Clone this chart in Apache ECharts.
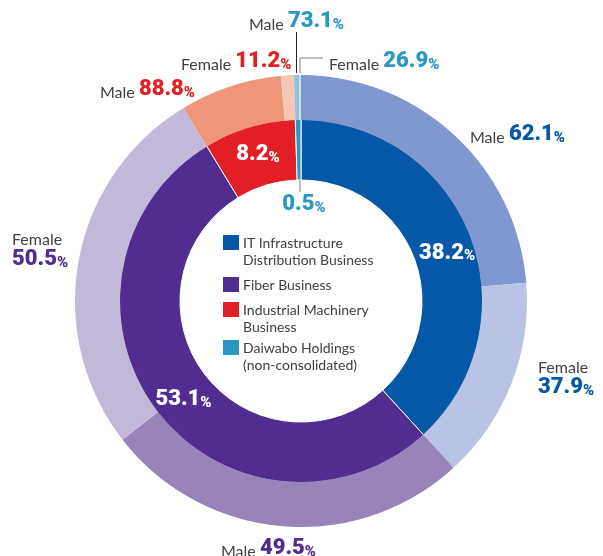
<!DOCTYPE html>
<html>
<head>
<meta charset="utf-8">
<script src="https://cdn.jsdelivr.net/npm/echarts@6/dist/echarts.min.js"></script>
<style>
  html, body { margin: 0; padding: 0; background: #fff; }
  #chart { width: 603px; height: 556px; }
</style>
</head>
<body>
<div id="chart"></div>
<script>
// data
const businesses = [
  'IT Infrastructure Distribution Business',
  'Fiber Business',
  'Industrial Machinery Business',
  'Daiwabo Holdings (non-consolidated)'
];
const legendLines = [
  ['IT Infrastructure', 'Distribution Business'],
  ['Fiber Business'],
  ['Industrial Machinery', 'Business'],
  ['Daiwabo Holdings', '(non-consolidated)']
];
const shares = [38.2, 53.1, 8.2, 0.5];      // 事業別構成比
const maleRatio = [62.1, 49.5, 88.8, 73.1];  // 男性比率
const femaleRatio = [37.9, 50.5, 11.2, 26.9]; // 女性比率

// styles
const innerColors = ['#0558a8', '#512d8f', '#e31f26', '#2b98c3'];
const maleColors = ['#8097cf', '#9883bb', '#ef967a', '#8ec4de'];
const femaleColors = ['#b9c3e3', '#c2b8da', '#f7c5b3', '#c8e3ef'];
const numColors = ['#0558a8', '#512d8f', '#e31f26', '#2b98c3'];
const FONT = 'Lato, "Noto Sans", sans-serif';
const NUM_FONT = 'Roboto, Lato, sans-serif';

// 外側ラベルの位置 [x, y] (Male/Female 交互)
const outerLabelPos = [
  [470, 134], [538, 374],
  [221, 548], [12, 246],
  [100, 89], [181, 61],
  [249, 21], [329, 61]
];
const outerTwoLine = [false, true, false, true, false, false, false, false];
const outerLinePts = {
  6: [[296.5, 73], [296.5, 50], [296.5, 32]],
  7: [[300, 73], [300, 58], [323, 58]]
};
const innerOffsets = [[2, 7], [6, 5], [1, 1]];

const outerData = [];
businesses.forEach((name, i) => {
  outerData.push({
    name: name + ' Male', gender: 'Male', ratio: maleRatio[i],
    value: shares[i] * maleRatio[i] / 100,
    itemStyle: { color: maleColors[i] },
    label: { color: numColors[i], position: i === 3 ? 'outside' : 'inside' },
    labelLine: { show: i === 3, lineStyle: { color: '#222', width: 1 } }
  });
  outerData.push({
    name: name + ' Female', gender: 'Female', ratio: femaleRatio[i],
    value: shares[i] * femaleRatio[i] / 100,
    itemStyle: { color: femaleColors[i] },
    label: { color: numColors[i], position: i === 3 ? 'outside' : 'inside' },
    labelLine: { show: i === 3, lineStyle: { color: '#808080', width: 1 } }
  });
});

const richNum = {
  n: { fontFamily: FONT, fontSize: 16, color: '#404040', lineHeight: 18, verticalAlign: 'bottom' },
  n2: { fontFamily: FONT, fontSize: 16, color: '#404040', lineHeight: 26, verticalAlign: 'bottom' },
  v: { fontFamily: NUM_FONT, fontSize: 22, fontWeight: 900, lineHeight: 23, verticalAlign: 'bottom' },
  p: { fontFamily: NUM_FONT, fontSize: 15, fontWeight: 900, lineHeight: 17, verticalAlign: 'bottom' }
};

// 凡例 (円の中)
const legendTop = [243, 285, 310, 348];
const legendGraphic = [];
legendLines.forEach((lines, i) => {
  legendGraphic.push({
    type: 'rect', left: 223, top: legendTop[i] - 8,
    shape: { width: 16, height: 15 },
    style: { fill: innerColors[i] }, silent: true
  });
  legendGraphic.push({
    type: 'text', left: 243, top: legendTop[i] - 8.5,
    style: {
      text: lines.join('\n'), font: '14px ' + FONT, fill: '#404040',
      lineHeight: 17
    }, silent: true
  });
});

const chart = echarts.init(document.getElementById('chart'));
chart.setOption({
  animation: false,
  graphic: legendGraphic,
  series: [
    {
      type: 'pie',
      radius: [121, 182],
      center: [301, 301],
      startAngle: 90,
      clockwise: true,
      silent: true,
      avoidLabelOverlap: false,
      itemStyle: { borderColor: '#fff', borderWidth: 1 },
      label: {
        show: true, position: 'inside',
        formatter: (p) => '{v|' + p.value + '}{p|%}',
        rich: richNum
      },
      labelLine: { show: false },
      labelLayout: (p) => {
        if (p.dataIndex === 3) {
          return {
            x: 304, y: 204, align: 'center', verticalAlign: 'middle',
            labelLinePoints: [[300, 179], [300, 185], [300, 192]]
          };
        }
        const r = p.labelRect, off = innerOffsets[p.dataIndex];
        return {
          x: r.x + r.width / 2 + off[0], y: r.y + r.height / 2 + off[1],
          align: 'center', verticalAlign: 'middle'
        };
      },
      data: businesses.map((name, i) => ({
        name: name, value: shares[i],
        itemStyle: { color: innerColors[i] },
        label: i === 3 ? { color: numColors[3], position: 'outside' } : { color: '#fff' },
        labelLine: { show: i === 3, lineStyle: { color: '#7a7a7a', width: 1 } }
      }))
    },
    {
      type: 'pie',
      radius: [181, 226],
      center: [301, 301],
      startAngle: 90,
      clockwise: true,
      silent: true,
      avoidLabelOverlap: false,
      itemStyle: { borderWidth: 0 },
      label: {
        show: true,
        formatter: (p) => {
          const two = outerTwoLine[p.dataIndex];
          return '{' + (two ? 'n2' : 'n') + '|' + p.data.gender + (two ? '}\n' : ' }') +
            '{v|' + p.data.ratio + '}{p|%}';
        },
        rich: richNum
      },
      labelLayout: (p) => {
        const pos = outerLabelPos[p.dataIndex];
        const out = { x: pos[0], y: pos[1], align: 'left', verticalAlign: 'middle' };
        if (outerLinePts[p.dataIndex]) out.labelLinePoints = outerLinePts[p.dataIndex];
        return out;
      },
      data: outerData
    }
  ]
});
</script>
</body>
</html>
